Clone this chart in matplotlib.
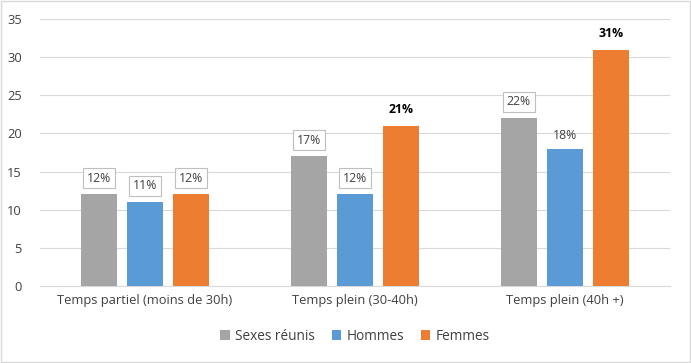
import numpy as np
from matplotlib import pyplot as plt
from matplotlib.patches import Rectangle

plt.rcParams['font.family'] = ['Open Sans', 'DejaVu Sans']

categories = ['Temps partiel (moins de 30h)', 'Temps plein (30-40h)', 'Temps plein (40h +)']
series_names = ['Sexes réunis', 'Hommes', 'Femmes']
sexes_reunis = [12, 17, 22]
hommes = [11, 12, 18]
femmes = [12, 21, 31]
colors = ['#A5A5A5', '#5B9BD5', '#ED7D31']
# label style per bar: 'box', 'plain', 'bold'
label_styles = [['box', 'box', 'box'],
                ['box', 'box', 'plain'],
                ['box', 'bold', 'bold']]


def make_chart():
    fig = plt.figure(figsize=(6.91, 3.63), dpi=100)
    ax = fig.add_axes([40 / 691, 77 / 363, 630 / 691, 267 / 363])
    x = np.arange(len(categories))
    width = 0.171
    step = 0.22
    all_values = [sexes_reunis, hommes, femmes]
    for i, (vals, name, col) in enumerate(zip(all_values, series_names, colors)):
        pos = x + (i - 1) * step
        ax.bar(pos, vals, width, color=col, label=name, zorder=3)
        for j, (p, v) in enumerate(zip(pos, vals)):
            style = label_styles[i][j]
            if style == 'box':
                ax.annotate(f'{v}%', (p, v), xytext=(0, 7), textcoords='offset points',
                            ha='center', va='bottom', fontsize=8.8, color='#404040', zorder=4,
                            bbox=dict(boxstyle='square,pad=0.3', fc='white', ec='#BFBFBF', lw=0.8))
            elif style == 'plain':
                ax.annotate(f'{v}%', (p, v), xytext=(0, 5), textcoords='offset points',
                            ha='center', va='bottom', fontsize=8.8, color='#404040', zorder=4)
            else:
                ax.annotate(f'{v}%', (p, v), xytext=(0, 7), textcoords='offset points',
                            ha='center', va='bottom', fontsize=8.8, fontweight='bold',
                            color='black', zorder=4)

    ax.set_xlim(-0.5, 2.5)
    ax.set_ylim(0, 35)
    ax.set_yticks(range(0, 36, 5))
    ax.set_xticks(x)
    ax.set_xticklabels(categories)
    ax.yaxis.grid(True, color='#D9D9D9', lw=0.8, zorder=0)
    for s in ['top', 'right', 'left']:
        ax.spines[s].set_visible(False)
    ax.spines['bottom'].set_color('#D9D9D9')
    ax.tick_params(axis='both', length=0, labelsize=9.3, labelcolor='#404040')
    ax.tick_params(axis='y', pad=13)
    ax.tick_params(axis='x', pad=6)
    ax.legend(loc='upper center', bbox_to_anchor=(0.5, -0.115), ncol=3, frameon=False,
              fontsize=9.8, handlelength=0.7, handleheight=0.7, handletextpad=0.4,
              columnspacing=1.2, labelcolor='#404040')
    fig.patches.append(Rectangle((0.001, 0.002), 0.997, 0.995, transform=fig.transFigure,
                                 fill=False, ec='#D9D9D9', lw=1))
    fig.savefig('out.png', dpi=100)


if __name__ == '__main__':
    make_chart()
